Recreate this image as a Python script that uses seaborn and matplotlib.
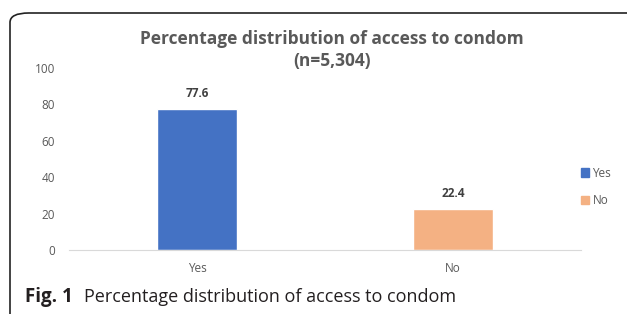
import matplotlib.pyplot as plt
import seaborn as sns
import pandas as pd
from matplotlib.patches import FancyBboxPatch

categories = ["Yes", "No"]
values = [77.6, 22.4]
colors = ["#4472C4", "#F4B183"]
yticks = [0, 20, 40, 60, 80, 100]

TEXT = "#595959"

sns.set_style("white")
plt.rcParams["font.family"] = ["Open Sans", "DejaVu Sans"]

df = pd.DataFrame({"answer": categories, "pct": values})

fig = plt.figure(figsize=(6.27, 3.14), dpi=100)
W, H = 627, 314
ax = fig.add_axes([69 / W, 1 - 250 / H, 512 / W, (250 - 68) / H])

sns.barplot(data=df, x="answer", y="pct", hue="answer", palette=colors,
            width=0.31, legend=False, ax=ax, saturation=1)

for i, v in enumerate(values):
    ax.text(i, v + 5, f"{v:.1f}", ha="center", va="bottom", fontsize=8.5,
            fontweight="bold", color="#404040")

ax.set_ylim(0, 100)
ax.set_xlim(-0.5, 1.5)
ax.set_yticks(yticks)
ax.set_xlabel("")
ax.set_ylabel("")
for s in ["top", "right", "left"]:
    ax.spines[s].set_visible(False)
ax.spines["bottom"].set_color("#D9D9D9")
ax.tick_params(axis="both", length=0, labelsize=8.5, colors=TEXT)
ax.tick_params(axis="y", pad=10)
ax.tick_params(axis="x", pad=9)

handles = [plt.Rectangle((0, 0), 1, 1, color=c) for c in colors]
fig.legend(handles, categories, loc="upper left",
           bbox_to_anchor=(570 / W, 1 - 156 / H), frameon=False,
           fontsize=8.5, labelcolor=TEXT, handlelength=0.7, handleheight=0.7,
           handletextpad=0.3, labelspacing=1.2)

fig.text(332 / W, 1 - 39 / H, "Percentage distribution of access to condom",
         ha="center", va="center", fontsize=12.5, fontweight="bold", color=TEXT)
fig.text(332 / W, 1 - 61 / H, "(n=5,304)",
         ha="center", va="center", fontsize=12.5, fontweight="bold", color=TEXT)

fig.text(25 / W, 1 - 297 / H, "Fig. 1", ha="left", va="center",
         fontsize=13.5, fontweight="bold", color="#231F20")
fig.text(84 / W, 1 - 297 / H, "Percentage distribution of access to condom",
         ha="left", va="center", fontsize=13, color="#231F20")

frame = FancyBboxPatch((10 / W, -0.2), 1.2, 1 - 13 / H + 0.2,
                       boxstyle="round,pad=0,rounding_size=0.03",
                       transform=fig.transFigure, fill=False,
                       edgecolor="#222222", linewidth=1.2, clip_on=True)
fig.patches.append(frame)

fig.savefig("out.png", dpi=100)
